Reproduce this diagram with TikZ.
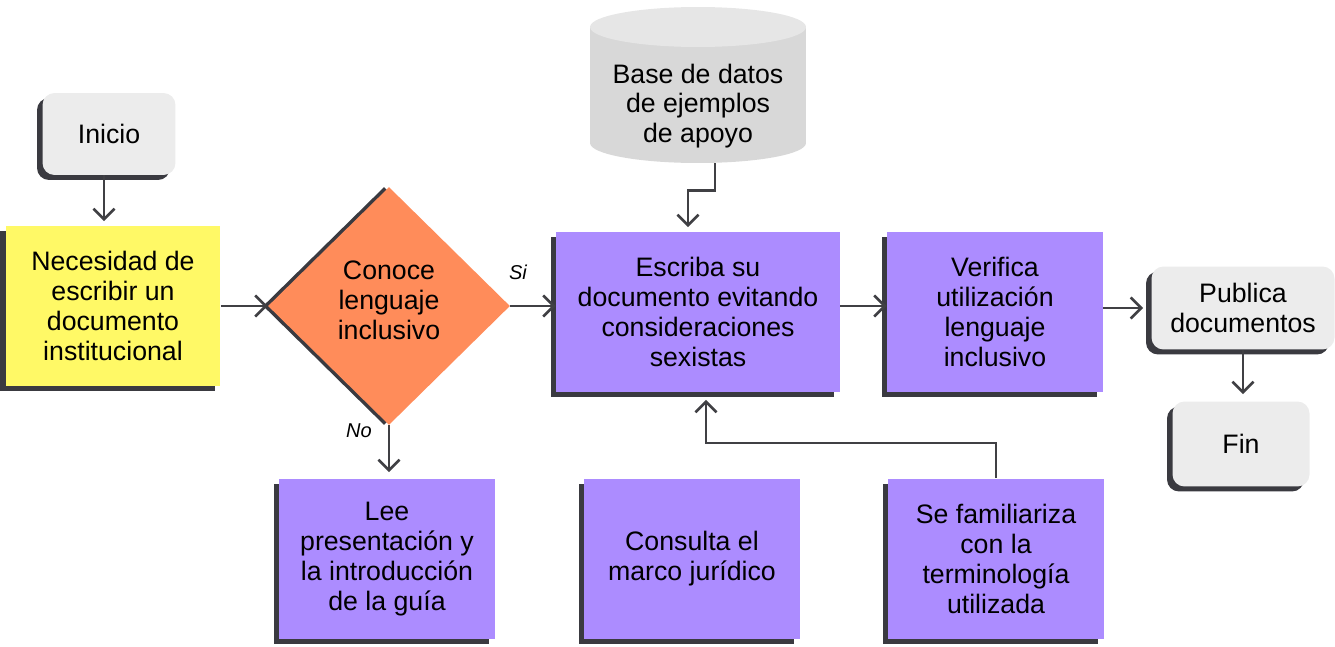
\documentclass[tikz,border=0pt]{standalone}
\usepackage{fontspec}
\setmainfont{Liberation Sans}
\usetikzlibrary{arrows.meta,positioning,calc,shadows,shapes.geometric}
\definecolor{StepPurple}{RGB}{172,140,255}
\definecolor{NeedYellow}{RGB}{255,249,102}
\definecolor{AskOrange}{RGB}{255,140,90}
\definecolor{TermGray}{RGB}{236,236,236}
\definecolor{DbGray}{RGB}{216,216,216}
\definecolor{DbTop}{RGB}{230,230,230}
\definecolor{ShadowDark}{RGB}{58,58,64}
\definecolor{LineDark}{RGB}{64,64,68}

\begin{document}
\begin{tikzpicture}[x=0.02cm, y=-0.02cm,
    every node/.style={font=\fontsize{15.2}{17}\selectfont, align=center, inner sep=0pt},
    darkshadow/.style={drop shadow={shadow xshift=-0.11cm, shadow yshift=-0.1cm,
                       opacity=1, fill=ShadowDark}},
    terminal/.style={rectangle, rounded corners=0.24cm, fill=TermGray, darkshadow},
    need/.style={rectangle, fill=NeedYellow, minimum width=4.3cm,
                 minimum height=3.22cm, darkshadow},
    ask/.style={diamond, fill=AskOrange, minimum width=4.84cm, minimum height=4.76cm,
                text depth=6.8pt,
                drop shadow={shadow xshift=-0.1cm, shadow yshift=0cm,
                opacity=1, fill=ShadowDark}},
    task/.style={rectangle, fill=StepPurple, minimum width=4.32cm,
                 minimum height=3.22cm, darkshadow},
    datastore/.style={rectangle, minimum width=4.32cm, minimum height=2.28cm},
    arr/.style={-{Straight Barb[length=6pt, width=12pt]}, line width=1.5pt, LineDark},
    answer/.style={font=\fontsize{11.4}{13}\selectfont\itshape}
  ]
    \useasboundingbox (0,0) rectangle (1335,646);

    % database drum
    \fill[DbGray] (590,27) rectangle (806,143);
    \fill[DbGray] (698,143) ellipse [x radius=2.16cm, y radius=0.4cm];
    \fill[DbTop] (698,27) ellipse [x radius=2.16cm, y radius=0.4cm];
    \node[datastore] (db) at (698,106) {Base de datos\\de ejemplos\\de apoyo};

    \node[terminal, minimum width=2.66cm, minimum height=1.64cm] (ini) at (109,134) {Inicio};
    \node[need] (nec) at (113,306) {Necesidad de\\escribir un\\documento\\institucional};
    \node[ask] (know) at (389,306) {Conoce\\lenguaje\\inclusivo};

    \node[task, minimum width=5.68cm] (write) at (698,312) {Escriba su\\documento evitando\\consideraciones\\sexistas};
    \node[task] (check) at (995,312) {Verifica\\utilización\\lenguaje\\inclusivo};
    \node[terminal, minimum width=3.66cm, minimum height=1.66cm] (pub) at (1243,308) {Publica\\documentos};
    \node[terminal, minimum width=2.74cm, minimum height=1.7cm] (fin) at (1241,444) {Fin};

    \node[task] (read) at (387,559) {Lee\\presentación y\\la introducción\\de la guía};
    \node[task] (law) at (692,559) {Consulta el\\marco jurídico};
    \node[task] (terms) at (996,559) {Se familiariza\\con la\\terminología\\utilizada};

    \node[answer] (yes) at (518,272) {Si};
    \node[answer] (no) at (359,431) {No};

    \draw[arr] ($(ini.south)+(-5,0)$) -- ($(ini.south |- nec.north)+(-5,-4)$);
    \draw[arr] (nec.east) -- (know.west);
    \draw[arr] (know.east) -- (know.east -| write.west);
    \draw[arr] (write.east |- know.east) -- (check.west |- know.east);
    \draw[arr] (check.east |- pub.west) -- ($(pub.west)+(-8,0)$);
    \draw[arr] (know.south) -- ($(know.south |- read.north)+(0,-6)$);
    \draw[arr] (pub.south) -- ($(pub.south |- fin.north)+(0,-7)$);
    \draw[arr] ($(db.south)+(17,0)$) -- ++(0,27) -| ($(write.north)+(-10,-4)$);
    \draw[arr] (terms.north) -- ++(0,-35) -| ($(write.south)+(8,7)$);
  \end{tikzpicture}
\end{document}
